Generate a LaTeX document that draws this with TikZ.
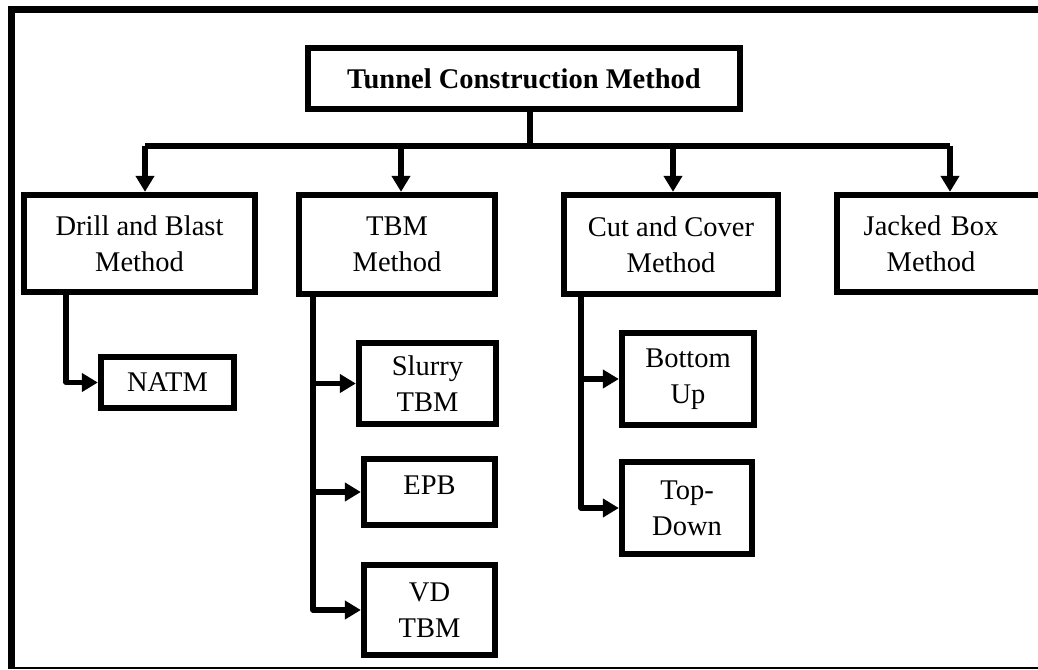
\documentclass[tikz,border=0pt]{standalone}
\usepackage{fontspec}
\setmainfont{Liberation Serif}
\usetikzlibrary{arrows.meta}
\tikzset{
  box/.style={draw=black, line width=2.9pt, fill=white, inner sep=0pt, align=center,
    font=\fontsize{14.25pt}{18pt}\selectfont, line join=miter},
  conn/.style={line width=2.6pt, line join=round, draw=black},
  arr/.style={conn, -{Triangle[length=8pt,width=9pt]}},
}
\begin{document}
\begin{tikzpicture}[x=0.5pt,y=-0.5pt]
\useasboundingbox (0,0) rectangle (1038,669);
% frame
\draw[line width=3.4pt] (11.7,669) -- (11.7,9.3) -- (1045,9.3);
\draw[line width=1pt] (11.7,667.5) -- (1045,667.5);

% nodes
\node[box, minimum width=216.25pt, minimum height=30.75pt, font=\bfseries\fontsize{14.25pt}{18pt}\selectfont] (top) at (524,78.5) {Tunnel Construction Method};
\node[box, minimum width=115.75pt, minimum height=48.75pt] (drill) at (139.5,243.5) {Drill and Blast\\Method};
\node[box, minimum width=98.25pt, minimum height=49.75pt] (tbm) at (397,244.5) {TBM\\Method};
\node[box, minimum width=107.25pt, minimum height=49.75pt] (cut) at (671,244.5) {Cut and Cover\\Method};
\node[box, minimum width=102.25pt, minimum height=48.75pt, text width=92pt, inner sep=0pt] (jack) at (939,243.5) {\hspace*{-8pt}Jacked Box\\\hspace*{-8pt}Method};
\node[box, minimum width=66.75pt, minimum height=25.75pt] (natm) at (167.5,382.5) {NATM};
\node[box, minimum width=68.75pt, minimum height=40.75pt] (slurry) at (427.5,383.5) {Slurry\\TBM};
\node[box, minimum width=65.75pt, minimum height=33.25pt] (epb) at (429.5,492) {\raisebox{7pt}{EPB}};
\node[box, minimum width=65.75pt, minimum height=45.25pt] (vd) at (429.5,610) {VD\\TBM};
\node[box, minimum width=66.25pt, minimum height=46.25pt] (bu) at (688,379) {Bottom\\Up};
\node[box, minimum width=65.25pt, minimum height=46.25pt] (td) at (687,508) {Top-\\Down};

% bus
\coordinate (stem) at (530,146);
\coordinate (b1) at (145,146);
\coordinate (b2) at (401,146);
\coordinate (b3) at (673,146);
\coordinate (b4) at (950,146);
\draw[conn] (top.south -| stem) -- (stem);
\draw[conn, line width=2.9pt] (b1) -- (b4);
\draw[arr] (b1) -- (b1 |- drill.north);
\draw[arr] (b2) -- (b2 |- tbm.north);
\draw[arr] (b3) -- (b3 |- cut.north);
\draw[arr] (b4) -- (b4 |- jack.north);

% drill branch
\coordinate (d1) at (66,0);
\draw[arr] (drill.south -| d1) |- (natm.west);

% tbm branch
\coordinate (t1) at (313,0);
\draw[arr] (tbm.south -| t1) |- (vd.west);
\draw[arr] (t1 |- slurry.west) -- (slurry.west);
\draw[arr] (t1 |- epb.west) -- (epb.west);

% cut branch
\coordinate (c1) at (581,0);
\draw[arr] (cut.south -| c1) |- (td.west);
\draw[arr] (c1 |- bu.west) -- (bu.west);
\end{tikzpicture}
\end{document}
